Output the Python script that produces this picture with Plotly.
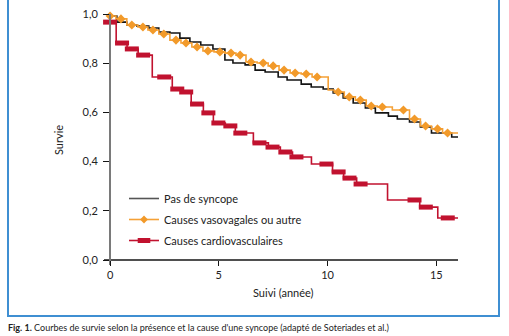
import numpy as np
import plotly.graph_objects as go

# ---- data ----
names = ["Pas de syncope", "Causes vasovagales ou autre", "Causes cardiovasculaires"]

t_black = [0, 0.31, 0.77, 1.23, 1.78, 2.24, 2.75, 3.21, 3.67, 4.17, 4.73, 5.28, 5.65, 6.21, 6.67,
           7.13, 7.73, 8.14, 8.79, 9.25, 9.80, 10.26, 10.72, 11.18, 11.74, 12.20, 12.80, 13.21,
           13.77, 14.27, 14.78, 15.71, 16.0]
s_black = [0.992, 0.967, 0.955, 0.951, 0.943, 0.927, 0.923, 0.902, 0.886, 0.874, 0.858, 0.813,
           0.801, 0.793, 0.772, 0.764, 0.744, 0.732, 0.715, 0.703, 0.695, 0.679, 0.659, 0.638,
           0.618, 0.598, 0.585, 0.573, 0.561, 0.541, 0.516, 0.500, 0.500]

t_orange = [0, 0.27, 0.77, 1.28, 1.74, 2.24, 2.75, 3.26, 3.76, 4.27, 4.78, 5.28, 5.79, 6.25,
            6.76, 7.27, 7.77, 8.28, 8.79, 9.29, 10.03, 10.31, 10.77, 11.28, 11.78, 12.29, 12.98,
            13.77, 14.27, 14.78, 15.29, 16.0]
s_orange = [0.992, 0.980, 0.955, 0.947, 0.935, 0.919, 0.894, 0.882, 0.866, 0.850, 0.846, 0.841,
            0.833, 0.805, 0.801, 0.789, 0.772, 0.760, 0.756, 0.744, 0.691, 0.683, 0.663, 0.650,
            0.626, 0.622, 0.610, 0.573, 0.545, 0.533, 0.516, 0.516]
cens_orange = [0, 0.50, 1.0, 1.51, 1.97, 2.47, 3.03, 3.49, 4.0, 4.50, 5.05, 5.56, 5.98, 6.48,
               7.04, 7.50, 8.0, 8.51, 9.02, 9.52, 10.49, 11.0, 11.51, 12.01, 12.52, 13.49, 14.0,
               14.51, 15.06, 15.52]

t_red = [0, 0.28, 0.78, 1.29, 1.94, 2.86, 3.27, 3.73, 4.29, 4.75, 5.30, 5.76, 6.59, 7.28, 7.83,
         8.39, 9.26, 10.23, 10.74, 11.34, 12.76, 14.24, 15.07, 16.0]
s_red = [0.967, 0.882, 0.858, 0.833, 0.744, 0.695, 0.683, 0.634, 0.598, 0.557, 0.545, 0.516,
         0.476, 0.459, 0.439, 0.419, 0.390, 0.358, 0.333, 0.309, 0.244, 0.215, 0.171, 0.171]
cens_red = [0, 0.55, 1.0, 1.52, 2.49, 3.09, 3.50, 4.0, 4.52, 4.98, 5.53, 5.99, 6.87, 7.47, 8.06,
            8.57, 9.95, 10.51, 11.01, 11.52, 14.0, 14.52, 15.53]

x_ticks = [0, 5, 10, 15]
y_ticks = [0.0, 0.2, 0.4, 0.6, 0.8, 1.0]
y_ticktext = ["0,0", "0,2", "0,4", "0,6", "0,8", "1,0"]

x_title = "Suivi (année)"
y_title = "Survie"
caption = "<b>Fig. 1.</b> Courbes de survie selon la présence et la cause d'une syncope (adapté de Soteriades et al.)"


def step_lookup(tt, ss, q):
    idx = np.searchsorted(np.asarray(tt), np.asarray(q), side="right") - 1
    return list(np.asarray(ss)[idx])


BLACK = "#141414"
ORANGE = "#f5a137"
ORANGE_M = "#f29a2a"
RED = "#c1122f"
FONT = "Lato"

fig = go.Figure()

fig.add_trace(go.Scatter(x=t_black, y=s_black, mode="lines", line=dict(color=BLACK, width=1.6, shape="hv"),
                         name=names[0], legendgroup="a", showlegend=False, cliponaxis=False))
fig.add_trace(go.Scatter(x=t_orange, y=s_orange, mode="lines", line=dict(color=ORANGE, width=1.6, shape="hv"),
                         name=names[1], legendgroup="b", showlegend=False, cliponaxis=False))
fig.add_trace(go.Scatter(x=cens_orange, y=step_lookup(t_orange, s_orange, cens_orange), mode="markers",
                         marker=dict(symbol="diamond", size=7, color=ORANGE_M, line=dict(width=0)),
                         name=names[1], legendgroup="b", showlegend=False, cliponaxis=False))
fig.add_trace(go.Scatter(x=t_red, y=s_red, mode="lines", line=dict(color=RED, width=1.6, shape="hv"),
                         name=names[2], legendgroup="c", showlegend=False, cliponaxis=False))
fig.add_trace(go.Scatter(x=cens_red, y=step_lookup(t_red, s_red, cens_red), mode="markers",
                         marker=dict(symbol="line-ew", size=10, color=RED, line=dict(width=5, color=RED)),
                         name=names[2], legendgroup="c", showlegend=False, cliponaxis=False))

# legend entries
fig.add_trace(go.Scatter(x=[None], y=[None], mode="lines", line=dict(color="#555555", width=1.6),
                         name=names[0], legendgroup="a"))
fig.add_trace(go.Scatter(x=[None], y=[None], mode="lines+markers", line=dict(color=ORANGE, width=1.6),
                         marker=dict(symbol="diamond", size=6, color=ORANGE_M),
                         name=names[1], legendgroup="b"))
fig.add_trace(go.Scatter(x=[None], y=[None], mode="lines+markers", line=dict(color=RED, width=1.6),
                         marker=dict(symbol="line-ew", size=9, color=RED, line=dict(width=5, color=RED)),
                         name=names[2], legendgroup="c"))

x_lo, x_hi = -0.28, 16.0
y_lo, y_hi = -0.0203, 1.0

fig.add_shape(type="line", xref="x", yref="y", x0=x_lo, x1=x_hi, y0=0, y1=0,
              line=dict(color=BLACK, width=1.4), layer="below")

W, H = 509, 336
L, T, PW, PH = 104, 14, 354, 251
def px_x(p):
    return (p - L) / PW
def px_y(p):
    return (T + PH - p) / PH
fig.add_shape(type="rect", xref="paper", yref="paper", x0=px_x(8), x1=px_x(499), y0=px_y(316), y1=px_y(-10),
              line=dict(color="#3f8fd2", width=2), fillcolor="rgba(0,0,0,0)")

fig.add_annotation(text=x_title, xref="paper", yref="paper", x=px_x(283), y=px_y(292), showarrow=False,
                   font=dict(family=FONT, size=11, color="#222"), xanchor="center", yanchor="middle")
fig.add_annotation(text=y_title, xref="paper", yref="paper", x=px_x(58), y=px_y(140), showarrow=False,
                   textangle=-90, font=dict(family=FONT, size=11, color="#222"), xanchor="center", yanchor="middle")
fig.add_annotation(text=caption, xref="paper", yref="paper", x=px_x(6), y=px_y(335), showarrow=False,
                   font=dict(family=FONT, size=9, color="#222"), xanchor="left", yanchor="bottom")

fig.update_layout(
    width=W, height=H,
    margin=dict(l=L, r=W - L - PW, t=T, b=H - T - PH, pad=0, autoexpand=False),
    paper_bgcolor="white", plot_bgcolor="white",
    font=dict(family=FONT, size=11, color="#222"),
    showlegend=True,
    legend=dict(x=px_x(124), y=px_y(184), xanchor="left", yanchor="top", bgcolor="rgba(0,0,0,0)",
                font=dict(family=FONT, size=11, color="#222"), traceorder="grouped", tracegroupgap=2,
                itemwidth=30),
    xaxis=dict(range=[x_lo, x_hi], anchor="free", position=(0 - y_lo) / (y_hi - y_lo), automargin=False,
               showline=False, showgrid=False, zeroline=False,
               tickmode="array", tickvals=x_ticks, ticktext=[str(v) for v in x_ticks],
               ticks="outside", ticklen=5, tickwidth=1.2, tickcolor=BLACK,
               tickfont=dict(family=FONT, size=11, color="#222")),
    yaxis=dict(range=[y_lo, y_hi], anchor="free", position=(0 - x_lo) / (x_hi - x_lo), automargin=False,
               showline=True, linecolor="#7a7a7a", linewidth=2, showgrid=False, zeroline=False,
               tickmode="array", tickvals=y_ticks, ticktext=y_ticktext,
               ticks="outside", ticklen=6, tickwidth=1.2, tickcolor=BLACK,
               tickfont=dict(family=FONT, size=11, color="#222"), ticklabelstandoff=3),
)

fig.write_html("out.html")
